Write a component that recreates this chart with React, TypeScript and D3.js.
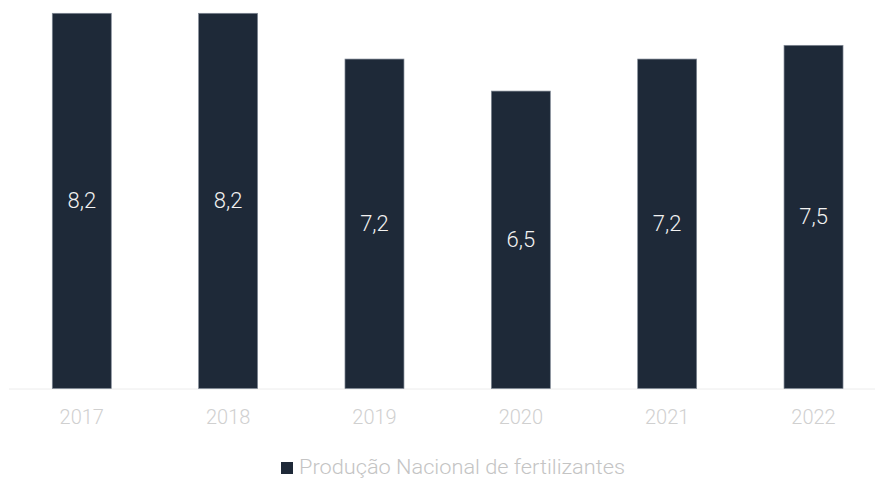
import React from "react";
import * as d3 from "d3";

const categories = ["2017", "2018", "2019", "2020", "2021", "2022"];
const values = [8.2, 8.2, 7.2, 6.5, 7.2, 7.5];
const seriesName = "Produção Nacional de fertilizantes";

const W = 875;
const H = 479;
const FONT = "Roboto, 'Noto Sans', sans-serif";
const BAR_FILL = "#1e2938";
const BAR_STROKE = "#7f8894";

export default function App() {
  const x = d3
    .scaleBand<string>()
    .domain(categories)
    .range([8.6, 886.7])
    .paddingInner(0.597)
    .paddingOuter(0.2985);
  const y = d3.scaleLinear().domain([0, d3.max(values)!]).range([388.5, 13.3]);
  const fmt = (v: number) => v.toFixed(1).replace(".", ",");

  return (
    <svg
      width={W}
      height={H}
      style={{ position: "absolute", left: 0, top: 0, display: "block" }}
      fontFamily={FONT}
    >
      <rect x={0} y={0} width={W} height={H} fill="#ffffff" />
      <line x1={9} x2={W} y1={389} y2={389} stroke="#ececec" strokeWidth={1} />
      {categories.map((c, i) => {
        const bx = x(c)!;
        const bw = x.bandwidth();
        const top = y(values[i]);
        const bottom = y(0);
        return (
          <g key={c}>
            <rect
              x={bx}
              y={top}
              width={bw}
              height={bottom - top}
              fill={BAR_FILL}
              stroke={BAR_STROKE}
              strokeWidth={0.7}
            />
            <text
              x={bx + bw / 2}
              y={(top + bottom) / 2}
              textAnchor="middle"
              dominantBaseline="central"
              fill="#f2f2f2"
              fontSize={22}
              fontWeight={300}
            >
              {fmt(values[i])}
            </text>
            <text
              x={bx + bw / 2}
              y={424}
              textAnchor="middle"
              fill="#d0d0d0"
              fontSize={20}
              fontWeight={300}
            >
              {c}
            </text>
          </g>
        );
      })}
      <rect x={281} y={462} width={12} height={12} fill={BAR_FILL} />
      <text
        x={299}
        y={474}
        fill="#c4c4c4"
        fontSize={20}
        fontWeight={300}
        textLength={326}
        lengthAdjust="spacingAndGlyphs"
      >
        {seriesName}
      </text>
    </svg>
  );
}
